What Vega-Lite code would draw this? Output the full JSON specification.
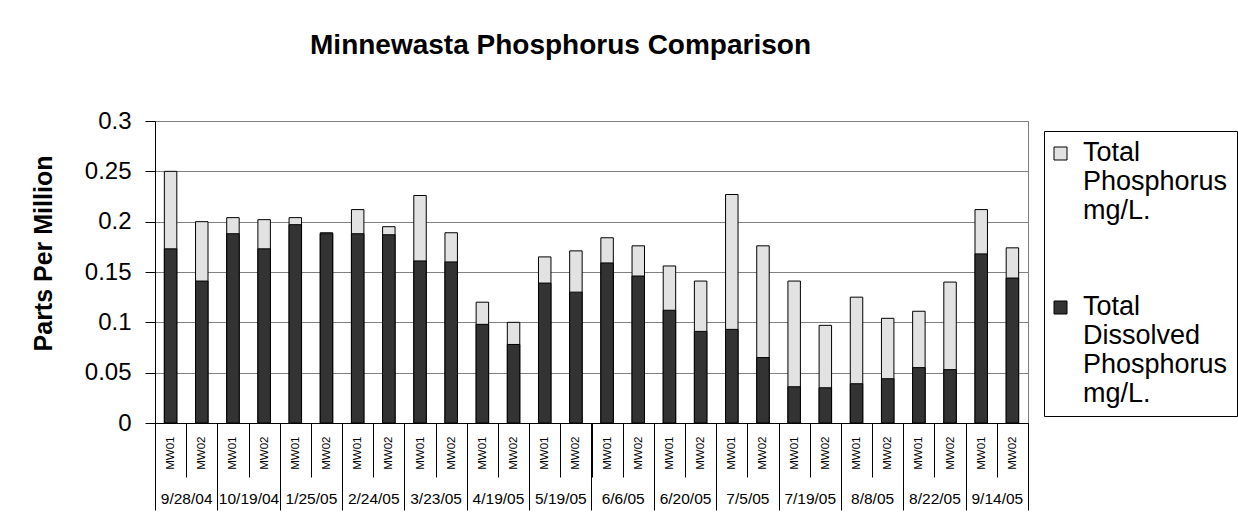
{
  "$schema": "https://vega.github.io/schema/vega-lite/v6.json",
  "autosize": "none",
  "width": 873,
  "height": 302,
  "padding": {"left": 155, "top": 121, "right": 210, "bottom": 104},
  "background": "white",
  "config": {
    "font": "Liberation Sans",
    "view": {"stroke": "#808080", "strokeWidth": 1}
  },
  "data": {
    "values": [
      {"id": "9/28/04 MW01", "date": "9/28/04", "well": "MW01", "total": 0.250, "dissolved": 0.173},
      {"id": "9/28/04 MW02", "date": "9/28/04", "well": "MW02", "total": 0.200, "dissolved": 0.141},
      {"id": "10/19/04 MW01", "date": "10/19/04", "well": "MW01", "total": 0.204, "dissolved": 0.188},
      {"id": "10/19/04 MW02", "date": "10/19/04", "well": "MW02", "total": 0.202, "dissolved": 0.173},
      {"id": "1/25/05 MW01", "date": "1/25/05", "well": "MW01", "total": 0.204, "dissolved": 0.197},
      {"id": "1/25/05 MW02", "date": "1/25/05", "well": "MW02", "total": 0.189, "dissolved": 0.188},
      {"id": "2/24/05 MW01", "date": "2/24/05", "well": "MW01", "total": 0.212, "dissolved": 0.188},
      {"id": "2/24/05 MW02", "date": "2/24/05", "well": "MW02", "total": 0.195, "dissolved": 0.187},
      {"id": "3/23/05 MW01", "date": "3/23/05", "well": "MW01", "total": 0.226, "dissolved": 0.161},
      {"id": "3/23/05 MW02", "date": "3/23/05", "well": "MW02", "total": 0.189, "dissolved": 0.160},
      {"id": "4/19/05 MW01", "date": "4/19/05", "well": "MW01", "total": 0.120, "dissolved": 0.098},
      {"id": "4/19/05 MW02", "date": "4/19/05", "well": "MW02", "total": 0.100, "dissolved": 0.078},
      {"id": "5/19/05 MW01", "date": "5/19/05", "well": "MW01", "total": 0.165, "dissolved": 0.139},
      {"id": "5/19/05 MW02", "date": "5/19/05", "well": "MW02", "total": 0.171, "dissolved": 0.130},
      {"id": "6/6/05 MW01", "date": "6/6/05", "well": "MW01", "total": 0.184, "dissolved": 0.159},
      {"id": "6/6/05 MW02", "date": "6/6/05", "well": "MW02", "total": 0.176, "dissolved": 0.146},
      {"id": "6/20/05 MW01", "date": "6/20/05", "well": "MW01", "total": 0.156, "dissolved": 0.112},
      {"id": "6/20/05 MW02", "date": "6/20/05", "well": "MW02", "total": 0.141, "dissolved": 0.091},
      {"id": "7/5/05 MW01", "date": "7/5/05", "well": "MW01", "total": 0.227, "dissolved": 0.093},
      {"id": "7/5/05 MW02", "date": "7/5/05", "well": "MW02", "total": 0.176, "dissolved": 0.065},
      {"id": "7/19/05 MW01", "date": "7/19/05", "well": "MW01", "total": 0.141, "dissolved": 0.036},
      {"id": "7/19/05 MW02", "date": "7/19/05", "well": "MW02", "total": 0.097, "dissolved": 0.035},
      {"id": "8/8/05 MW01", "date": "8/8/05", "well": "MW01", "total": 0.125, "dissolved": 0.039},
      {"id": "8/8/05 MW02", "date": "8/8/05", "well": "MW02", "total": 0.104, "dissolved": 0.044},
      {"id": "8/22/05 MW01", "date": "8/22/05", "well": "MW01", "total": 0.111, "dissolved": 0.055},
      {"id": "8/22/05 MW02", "date": "8/22/05", "well": "MW02", "total": 0.140, "dissolved": 0.053},
      {"id": "9/14/05 MW01", "date": "9/14/05", "well": "MW01", "total": 0.212, "dissolved": 0.168},
      {"id": "9/14/05 MW02", "date": "9/14/05", "well": "MW02", "total": 0.174, "dissolved": 0.144}
    ]
  },
  "resolve": {"scale": {"x": "independent"}, "axis": {"x": "independent"}},
  "layer": [
    {
      "mark": {"type": "bar", "stroke": "black", "strokeWidth": 1, "width": {"band": 0.4}},
      "encoding": {
        "x": {
          "field": "id", "type": "nominal", "sort": null,
          "scale": {"paddingInner": 0, "paddingOuter": 0},
          "axis": {
            "orient": "bottom",
            "title": null,
            "grid": false,
            "tickBand": "extent",
            "tickSize": 54,
            "tickColor": "black",
            "domainColor": "black",
            "labelAngle": -90,
            "labelAlign": "right",
            "labelBaseline": "middle",
            "labelPadding": -41,
            "labelFontSize": 11.5,
            "labelColor": "black",
            "labelExpr": "split(datum.label, ' ')[1]"
          }
        },
        "y": {
          "field": "total", "type": "quantitative",
          "scale": {"domain": [0, 0.3], "nice": false},
          "axis": {
            "title": "Parts Per Million",
            "titleFontSize": 25,
            "titleFontWeight": "bold",
            "titleColor": "black",
            "titlePadding": 28,
            "titleY": 132,
            "values": [0, 0.05, 0.1, 0.15, 0.2, 0.25, 0.3],
            "format": "~g",
            "labelFontSize": 24,
            "labelColor": "black",
            "labelPadding": 14,
            "tickSize": 10,
            "tickColor": "black",
            "domainColor": "black",
            "gridColor": "#808080",
            "gridWidth": 1
          }
        },
        "color": {
          "datum": "Total Phosphorus mg/L.",
          "type": "nominal",
          "scale": {
            "domain": ["Total Phosphorus mg/L.", "Total Dissolved Phosphorus mg/L."],
            "range": ["#e2e2e2", "#333333"]
          },
          "legend": {
            "title": null,
            "orient": "none",
            "legendX": 889,
            "legendY": 10,
            "padding": 9,
            "fillColor": "white",
            "strokeColor": "black",
            "symbolType": "square",
            "symbolSize": 169,
            "symbolOffset": -6,
            "symbolStrokeColor": "black",
            "symbolStrokeWidth": 1,
            "labelFontSize": 27,
            "labelColor": "black",
            "labelLimit": 300,
            "labelOffset": 9,
            "labelBaseline": "top",
            "rowPadding": 68,
            "labelExpr": "split(datum.label, ' ')",
            "encode": {"labels": {"update": {"dy": {"value": -14}}}}
          }
        }
      }
    },
    {
      "mark": {"type": "bar", "stroke": "black", "strokeWidth": 1, "width": {"band": 0.4}},
      "encoding": {
        "x": {
          "field": "id", "type": "nominal", "sort": null,
          "scale": {"paddingInner": 0, "paddingOuter": 0},
          "axis": null
        },
        "y": {"field": "dissolved", "type": "quantitative"},
        "color": {"datum": "Total Dissolved Phosphorus mg/L.", "type": "nominal"}
      }
    },
    {
      "mark": {"type": "bar", "opacity": 0},
      "encoding": {
        "x": {
          "field": "date", "type": "nominal", "sort": null,
          "scale": {"paddingInner": 0, "paddingOuter": 0},
          "axis": {
            "orient": "bottom",
            "title": null,
            "grid": false,
            "domain": false,
            "tickBand": "extent",
            "tickSize": 87,
            "tickColor": "black",
            "labelAngle": 0,
            "labelBaseline": "middle",
            "labelPadding": -12,
            "labelFontSize": 15.5,
            "labelColor": "black"
          }
        },
        "y": {"field": "total", "type": "quantitative"}
      }
    },
    {
      "mark": {"type": "bar", "opacity": 0},
      "encoding": {
        "x": {
          "field": "date", "type": "nominal", "sort": null,
          "scale": {"paddingInner": 0, "paddingOuter": 0},
          "axis": {
            "orient": "top",
            "title": "Minnewasta Phosphorus Comparison",
            "titleFontSize": 28,
            "titleFontWeight": "bold",
            "titleColor": "black",
            "titleX": 405,
            "titleY": -68,
            "titleAlign": "center",
            "titleBaseline": "alphabetic",
            "titleAngle": 0,
            "domain": false,
            "ticks": false,
            "labels": false,
            "grid": false
          }
        },
        "y": {"field": "total", "type": "quantitative"}
      }
    }
  ]
}
